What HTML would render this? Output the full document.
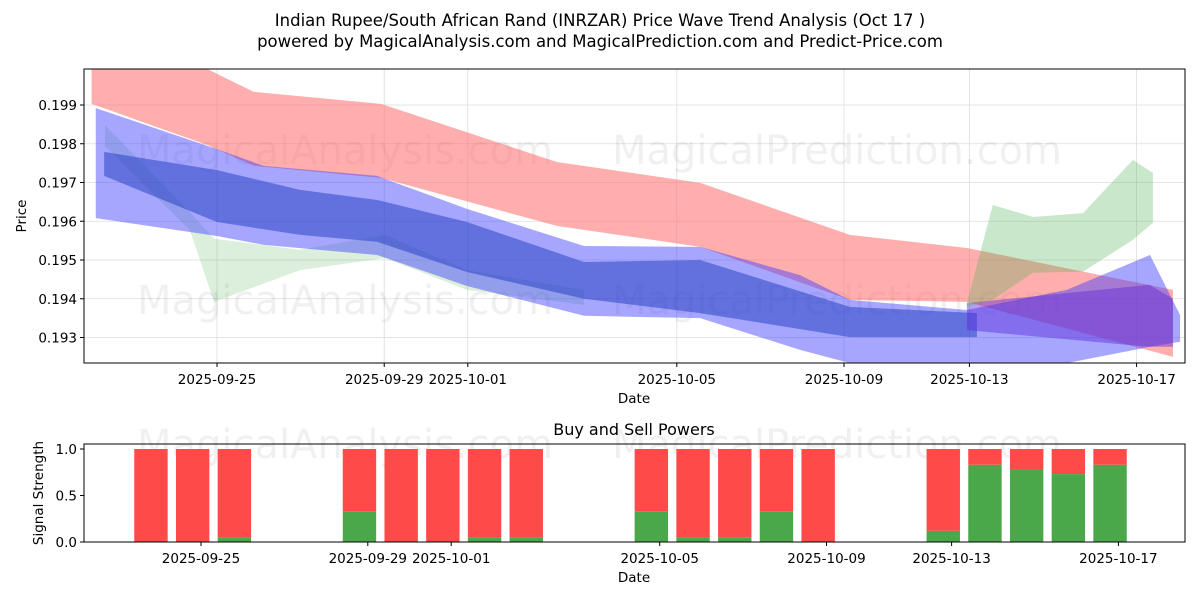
<!DOCTYPE html>
<html><head><meta charset="utf-8"><style>
body{margin:0;background:#fff;font-family:"DejaVu Sans","Liberation Sans",sans-serif;}
svg text{font-family:"DejaVu Sans","Liberation Sans",sans-serif;}
</style></head><body>
<svg id="c" width="1200" height="600" xmlns="http://www.w3.org/2000/svg">
<text x="600" y="26" font-size="16.5" text-anchor="middle">Indian Rupee/South African Rand (INRZAR) Price Wave Trend Analysis (Oct 17 )</text>
<text x="600" y="47" font-size="16.5" text-anchor="middle">powered by MagicalAnalysis.com and MagicalPrediction.com and Predict-Price.com</text>
<g id="topg"></g><g id="botg"></g>
</svg>
<script>
// day offsets from 2025-09-25
const tickDays=[0,4,6,11,15,18,22];
const tickLabels=["2025-09-25","2025-09-29","2025-10-01","2025-10-05","2025-10-09","2025-10-13","2025-10-17"];
const yTicks=[0.193,0.194,0.195,0.196,0.197,0.198,0.199];
// bands: [day, upper, lower]
const redBand=[[-3.0,0.19993,0.19903],[-0.24,0.19993,0.19797],[0.88,0.19934,0.19743],[3.92,0.19903,0.19712],[8.13,0.19753,0.19588],[11.56,0.19699,0.19534],[15.14,0.19565,0.19397],[17.94,0.19531,0.19392],[22.87,0.19423,0.1925]];
const blueEnvelope=[[-2.9,0.19892,0.19608],[0,0.19786,0.19562],[1.12,0.19743,0.19539],[3.83,0.19717,0.19513],[5.98,0.19632,0.19433],[8.78,0.19536,0.19356],[11.56,0.19534,0.19350],[13.95,0.19461,0.19268],[15.14,0.19397,0.19234],[17.94,0.19371,0.19234],[20.33,0.19423,0.19234],[22.32,0.19513,0.19276],[23.04,0.19358,0.19289]];
const blueCore=[[-2.7,0.19779,0.19717],[0,0.19732,0.19598],[1.99,0.19681,0.19565],[3.83,0.19655,0.19547],[5.98,0.19598,0.19469],[8.78,0.19495,0.19400],[11.56,0.19500,0.19363],[15.14,0.19379,0.19301],[18.18,0.19363,0.19301]];
const blueTail=[[17.94,0.19389,0.19319],[22.3,0.19436,0.19276],[22.87,0.19400,0.19276]];
const greenLeft=[[-2.68,0.19848,0.19794],[-0.65,0.19624,0.19577],[-0.07,0.19555,0.19392],[1.99,0.19526,0.19474],[4.02,0.19565,0.19505],[5.98,0.19474,0.19423],[8.78,0.19423,0.19384]];
const greenRight=[[17.94,0.19389,0.19380],[18.56,0.19642,0.19397],[19.52,0.19611,0.19467],[20.72,0.19621,0.19470],[21.91,0.19758,0.19552],[22.39,0.19725,0.19596]];
// buy/sell
const barDays=[-1.2,-0.2,0.8,3.8,4.8,5.8,6.8,7.8,10.8,11.8,12.8,13.8,14.8,17.8,18.8,19.8,20.8,21.8];
const buyVals=[0,0,0.05,0.33,0,0,0.05,0.05,0.33,0.05,0.05,0.33,0,0.12,0.83,0.78,0.73,0.83];

const NS="http://www.w3.org/2000/svg";
const L=84,R=1185,T1=69,B1=363,T2=444,B2=542;
const xS=d=>217+d*41.8;
const xB=d=>201+d*41.7;
const yS=v=>105+(0.199-v)*38750;
const y2=v=>542-v*93;
function mk(tag,at,parent){const e=document.createElementNS(NS,tag);for(const k in at)e.setAttribute(k,at[k]);parent.appendChild(e);return e;}
const topG=document.getElementById('topg'),botG=document.getElementById('botg');
const cp=mk('clipPath',{id:'cp1'},topG);mk('rect',{x:L,y:T1,width:R-L,height:B1-T1},cp);
tickDays.forEach(d=>{const g=mk('line',{x1:xS(d),x2:xS(d),y1:T1,y2:B1,stroke:'#ddd','stroke-width':0.8},topG);

});
yTicks.forEach(v=>{const g=mk('line',{x1:L,x2:R,y1:yS(v),y2:yS(v),stroke:'#ddd','stroke-width':0.8},topG);

});
[[345,150,'MagicalAnalysis.com'],[837,150,'MagicalPrediction.com'],[345,300,'MagicalAnalysis.com'],[837,300,'MagicalPrediction.com']].forEach(w=>{const t=mk('text',{x:w[0],y:w[1]+14,'font-size':40,'text-anchor':'middle',fill:'#000','fill-opacity':0.06},topG);t.textContent=w[2];

});
const gb=mk('g',{'clip-path':'url(#cp1)'},topG);
function band(arr,col,op,name){
 const pts=arr.map(p=>xS(p[0])+','+yS(p[1])).concat(arr.slice().reverse().map(p=>xS(p[0])+','+yS(p[2])));
 const e=mk('polygon',{points:pts.join(' '),fill:col,'fill-opacity':op},gb);
 
 
}
band(redBand,'#ff6464',0.52,'red-band');
band(greenLeft,'#4caf50',0.2,'green-band-left');
band(blueEnvelope,'#3a3aff',0.45,'blue-band-envelope');
band(blueCore,'#1f3cc0',0.5,'blue-band-core');
band(blueTail,'#5a2ad8',0.45,'blue-tail');
band(greenRight,'#4caf50',0.3,'green-band-right');
mk('rect',{x:L,y:T1,width:R-L,height:B1-T1,fill:'none',stroke:'#000','stroke-width':1},topG);
tickDays.forEach((d,i)=>{mk('line',{x1:xS(d),x2:xS(d),y1:B1,y2:B1+4,stroke:'#000'},topG);
const t=mk('text',{x:xS(d),y:B1+21,'font-size':13.5,'text-anchor':'middle'},topG);t.textContent=tickLabels[i];

});
yTicks.forEach(v=>{mk('line',{x1:L-4,x2:L,y1:yS(v),y2:yS(v),stroke:'#000'},topG);
const t=mk('text',{x:L-7,y:yS(v)+5,'font-size':13.5,'text-anchor':'end'},topG);t.textContent=v.toFixed(3);

});
let t=mk('text',{x:634,y:403,'font-size':13.5,'text-anchor':'middle'},topG);t.textContent='Date';

t=mk('text',{x:26,y:216,'font-size':13.5,'text-anchor':'middle',transform:'rotate(-90 26 216)'},topG);t.textContent='Price';

t=mk('text',{x:634,y:435,'font-size':16,'text-anchor':'middle'},botG);t.textContent='Buy and Sell Powers';

[[345,'MagicalAnalysis.com'],[837,'MagicalPrediction.com']].forEach(w=>{const e=mk('text',{x:w[0],y:458,'font-size':40,'text-anchor':'middle',fill:'#000','fill-opacity':0.06},botG);e.textContent=w[1];
});
barDays.forEach((d,i)=>{const x=xB(d)-16.7,w=33.4;
 const r=mk('rect',{x:x,y:y2(1),width:w,height:y2(buyVals[i])-y2(1),fill:'#ff4a4a'},botG);
 
 const g=mk('rect',{x:x,y:y2(buyVals[i]),width:w,height:B2-y2(buyVals[i]),fill:'#4aa84a'},botG);
 });
mk('rect',{x:L,y:T2,width:R-L,height:B2-T2,fill:'none',stroke:'#000','stroke-width':1},botG);
tickDays.forEach((d,i)=>{mk('line',{x1:xB(d),x2:xB(d),y1:B2,y2:B2+4,stroke:'#000'},botG);
const e=mk('text',{x:xB(d),y:B2+21,'font-size':13.5,'text-anchor':'middle'},botG);e.textContent=tickLabels[i];
});
[0,0.5,1].forEach(v=>{mk('line',{x1:L-4,x2:L,y1:y2(v),y2:y2(v),stroke:'#000'},botG);
const e=mk('text',{x:L-7,y:y2(v)+5,'font-size':13.5,'text-anchor':'end'},botG);e.textContent=v.toFixed(1);
});
t=mk('text',{x:634,y:582,'font-size':13.5,'text-anchor':'middle'},botG);t.textContent='Date';

t=mk('text',{x:43,y:493,'font-size':13.5,'text-anchor':'middle',transform:'rotate(-90 43 493)'},botG);t.textContent='Signal Strength';

</script>
</body></html>
